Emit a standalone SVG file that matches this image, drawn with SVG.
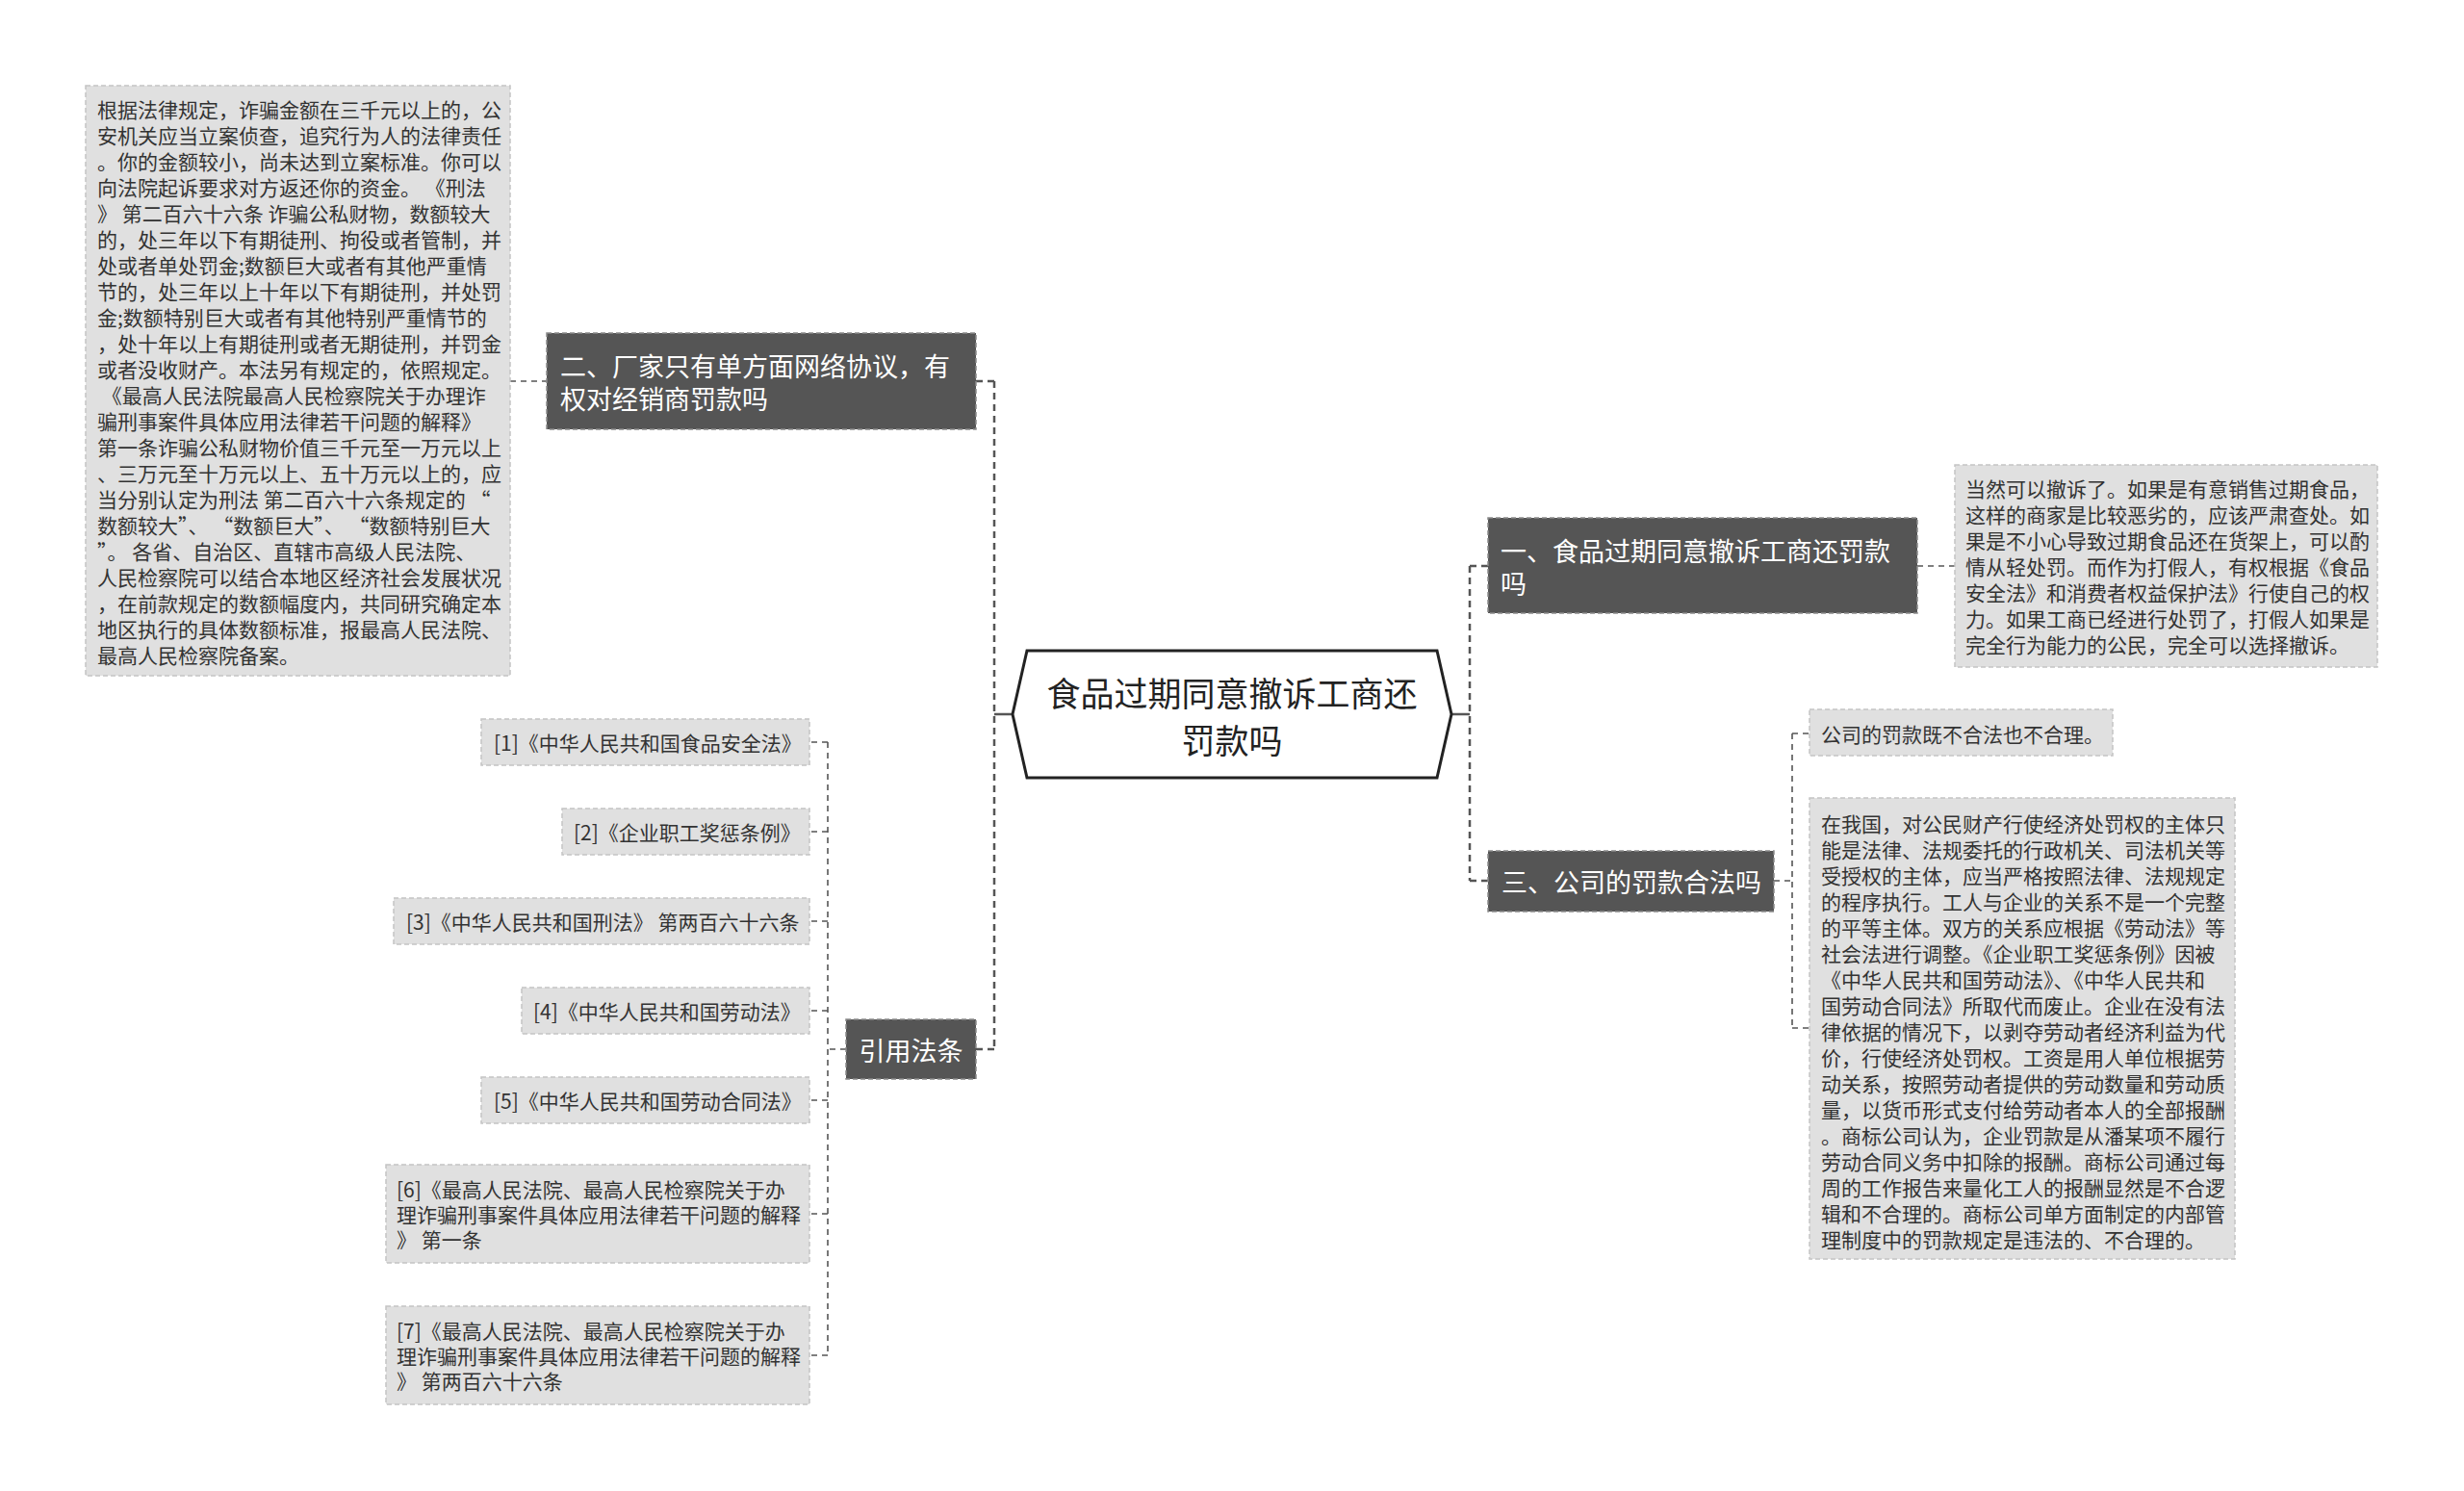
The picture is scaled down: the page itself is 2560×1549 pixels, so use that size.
<svg xmlns="http://www.w3.org/2000/svg" width="2560" height="1549" viewBox="0 0 2560 1549">
<style>
text{font-family:"Noto Sans CJK SC","Liberation Sans",sans-serif;dominant-baseline:central}
.dark{fill:#555555;stroke:#8a8a8a;stroke-width:1.5;stroke-dasharray:5 3}
.dt{fill:#ffffff;font-size:27px}
.light{fill:#e0e0e0;stroke:#c4c4c4;stroke-width:1.5;stroke-dasharray:5 3}
.lt{fill:#333333;font-size:21px}
.main{fill:none;stroke:#555555;stroke-width:2.5;stroke-dasharray:7 5}
.sub{fill:none;stroke:#555555;stroke-width:1.6;stroke-dasharray:6 5}
.solid{fill:none;stroke:#555555;stroke-width:2.5}
.ct{fill:#222222;font-size:35px;text-anchor:middle}
</style>
<rect width="2560" height="1549" fill="#ffffff"/>
<g id="connectors">
<path class="solid" d="M1508 742H1527M1052 742H1033"/>
<path class="main" d="M1527 588V915M1527 588H1546M1527 915H1546"/>
<path class="main" d="M1033 396V1090M1033 396H1014M1033 1090H1014"/>
<path class="sub" d="M1992 588H2031"/>
<path class="sub" d="M530 396H568"/>
<path class="sub" d="M1843 915H1862M1862 762V1068M1862 762H1880M1862 1068H1880"/>
<path class="sub" d="M879 1090H860M860 771V1408M860 771H841M860 864H841M860 957H841M860 1050H841M860 1143H841M860 1261H841M860 1408H841"/>
</g>
<g id="root">
<polygon points="1052,742 1067,676 1493,676 1508,742 1493,808 1067,808" fill="#ffffff" stroke="#222222" stroke-width="3"/>
<text class="ct" x="1280" y="718">食品过期同意撤诉工商还</text>
<text class="ct" x="1280" y="767">罚款吗</text>
</g>
<g id="node1">
<rect class="dark" x="1546" y="538" width="446" height="99"/>
<text class="dt" x="1559" y="571">一、食品过期同意撤诉工商还罚款</text>
<text class="dt" x="1559" y="605">吗</text>
</g>
<g id="node1-text">
<rect class="light" x="2031" y="483" width="439" height="210"/>
<text class="lt" x="2042" y="507">当然可以撤诉了。如果是有意销售过期食品，</text>
<text class="lt" x="2042" y="534">这样的商家是比较恶劣的，应该严肃查处。如</text>
<text class="lt" x="2042" y="561">果是不小心导致过期食品还在货架上，可以酌</text>
<text class="lt" x="2042" y="588">情从轻处罚。而作为打假人，有权根据《食品</text>
<text class="lt" x="2042" y="615">安全法》和消费者权益保护法》行使自己的权</text>
<text class="lt" x="2042" y="642">力。如果工商已经进行处罚了，打假人如果是</text>
<text class="lt" x="2042" y="669">完全行为能力的公民，完全可以选择撤诉。</text>
</g>
<g id="node2">
<rect class="dark" x="568" y="346" width="446" height="100"/>
<text class="dt" x="582" y="379">二、厂家只有单方面网络协议，有</text>
<text class="dt" x="582" y="413">权对经销商罚款吗</text>
</g>
<g id="node2-text">
<rect class="light" x="89" y="89" width="441" height="613"/>
<text class="lt" x="101" y="113">根据法律规定，诈骗金额在三千元以上的，公</text>
<text class="lt" x="101" y="140">安机关应当立案侦查，追究行为人的法律责任</text>
<text class="lt" x="101" y="167">。你的金额较小，尚未达到立案标准。你可以</text>
<text class="lt" x="101" y="194">向法院起诉要求对方返还你的资金。 《刑法</text>
<text class="lt" x="101" y="221">》 第二百六十六条 诈骗公私财物，数额较大</text>
<text class="lt" x="101" y="248">的，处三年以下有期徒刑、拘役或者管制，并</text>
<text class="lt" x="101" y="275">处或者单处罚金;数额巨大或者有其他严重情</text>
<text class="lt" x="101" y="302">节的，处三年以上十年以下有期徒刑，并处罚</text>
<text class="lt" x="101" y="329">金;数额特别巨大或者有其他特别严重情节的</text>
<text class="lt" x="101" y="356">，处十年以上有期徒刑或者无期徒刑，并罚金</text>
<text class="lt" x="101" y="383">或者没收财产。本法另有规定的，依照规定。</text>
<text class="lt" x="101" y="410" xml:space="preserve"> 《最高人民法院最高人民检察院关于办理诈</text>
<text class="lt" x="101" y="437">骗刑事案件具体应用法律若干问题的解释》</text>
<text class="lt" x="101" y="464">第一条诈骗公私财物价值三千元至一万元以上</text>
<text class="lt" x="101" y="491">、三万元至十万元以上、五十万元以上的，应</text>
<text class="lt" x="101" y="518">当分别认定为刑法 第二百六十六条规定的 “</text>
<text class="lt" x="101" y="545">数额较大”、 “数额巨大”、 “数额特别巨大</text>
<text class="lt" x="101" y="572">”。 各省、自治区、直辖市高级人民法院、</text>
<text class="lt" x="101" y="599">人民检察院可以结合本地区经济社会发展状况</text>
<text class="lt" x="101" y="626">，在前款规定的数额幅度内，共同研究确定本</text>
<text class="lt" x="101" y="653">地区执行的具体数额标准，报最高人民法院、</text>
<text class="lt" x="101" y="680">最高人民检察院备案。</text>
</g>
<g id="node3">
<rect class="dark" x="1546" y="884" width="297" height="63"/>
<text class="dt" x="1560" y="915">三、公司的罚款合法吗</text>
</g>
<g id="node3-a">
<rect class="light" x="1880" y="737" width="315" height="48"/>
<text class="lt" x="1892" y="762">公司的罚款既不合法也不合理。</text>
</g>
<g id="node3-b">
<rect class="light" x="1880" y="829" width="442" height="479"/>
<text class="lt" x="1892" y="855">在我国，对公民财产行使经济处罚权的主体只</text>
<text class="lt" x="1892" y="882">能是法律、法规委托的行政机关、司法机关等</text>
<text class="lt" x="1892" y="909">受授权的主体，应当严格按照法律、法规规定</text>
<text class="lt" x="1892" y="936">的程序执行。工人与企业的关系不是一个完整</text>
<text class="lt" x="1892" y="963">的平等主体。双方的关系应根据《劳动法》等</text>
<text class="lt" x="1892" y="990">社会法进行调整。《企业职工奖惩条例》因被</text>
<text class="lt" x="1892" y="1017">《中华人民共和国劳动法》、《中华人民共和</text>
<text class="lt" x="1892" y="1044">国劳动合同法》所取代而废止。企业在没有法</text>
<text class="lt" x="1892" y="1071">律依据的情况下，以剥夺劳动者经济利益为代</text>
<text class="lt" x="1892" y="1098">价，行使经济处罚权。工资是用人单位根据劳</text>
<text class="lt" x="1892" y="1125">动关系，按照劳动者提供的劳动数量和劳动质</text>
<text class="lt" x="1892" y="1152">量，以货币形式支付给劳动者本人的全部报酬</text>
<text class="lt" x="1892" y="1179">。商标公司认为，企业罚款是从潘某项不履行</text>
<text class="lt" x="1892" y="1206">劳动合同义务中扣除的报酬。商标公司通过每</text>
<text class="lt" x="1892" y="1233">周的工作报告来量化工人的报酬显然是不合逻</text>
<text class="lt" x="1892" y="1260">辑和不合理的。商标公司单方面制定的内部管</text>
<text class="lt" x="1892" y="1287">理制度中的罚款规定是违法的、不合理的。</text>
</g>
<g id="node4">
<rect class="dark" x="879" y="1059" width="135" height="62"/>
<text class="dt" x="946.5" y="1090" text-anchor="middle">引用法条</text>
</g>
<g id="ref1">
<rect class="light" x="500" y="747" width="341" height="48"/>
<text class="lt" x="513" y="771">[1]《中华人民共和国食品安全法》</text>
</g>
<g id="ref2">
<rect class="light" x="584" y="840" width="257" height="48"/>
<text class="lt" x="596" y="864">[2]《企业职工奖惩条例》</text>
</g>
<g id="ref3">
<rect class="light" x="409" y="933" width="432" height="48"/>
<text class="lt" x="422" y="957">[3]《中华人民共和国刑法》 第两百六十六条</text>
</g>
<g id="ref4">
<rect class="light" x="542" y="1026" width="299" height="48"/>
<text class="lt" x="554" y="1050">[4]《中华人民共和国劳动法》</text>
</g>
<g id="ref5">
<rect class="light" x="500" y="1119" width="341" height="48"/>
<text class="lt" x="513" y="1143">[5]《中华人民共和国劳动合同法》</text>
</g>
<g id="ref6">
<rect class="light" x="401" y="1210" width="440" height="102"/>
<text class="lt" x="412" y="1235">[6]《最高人民法院、最高人民检察院关于办</text>
<text class="lt" x="412" y="1261">理诈骗刑事案件具体应用法律若干问题的解释</text>
<text class="lt" x="412" y="1287">》 第一条</text>
</g>
<g id="ref7">
<rect class="light" x="401" y="1357" width="440" height="102"/>
<text class="lt" x="412" y="1382">[7]《最高人民法院、最高人民检察院关于办</text>
<text class="lt" x="412" y="1408">理诈骗刑事案件具体应用法律若干问题的解释</text>
<text class="lt" x="412" y="1434">》 第两百六十六条</text>
</g>
</svg>
